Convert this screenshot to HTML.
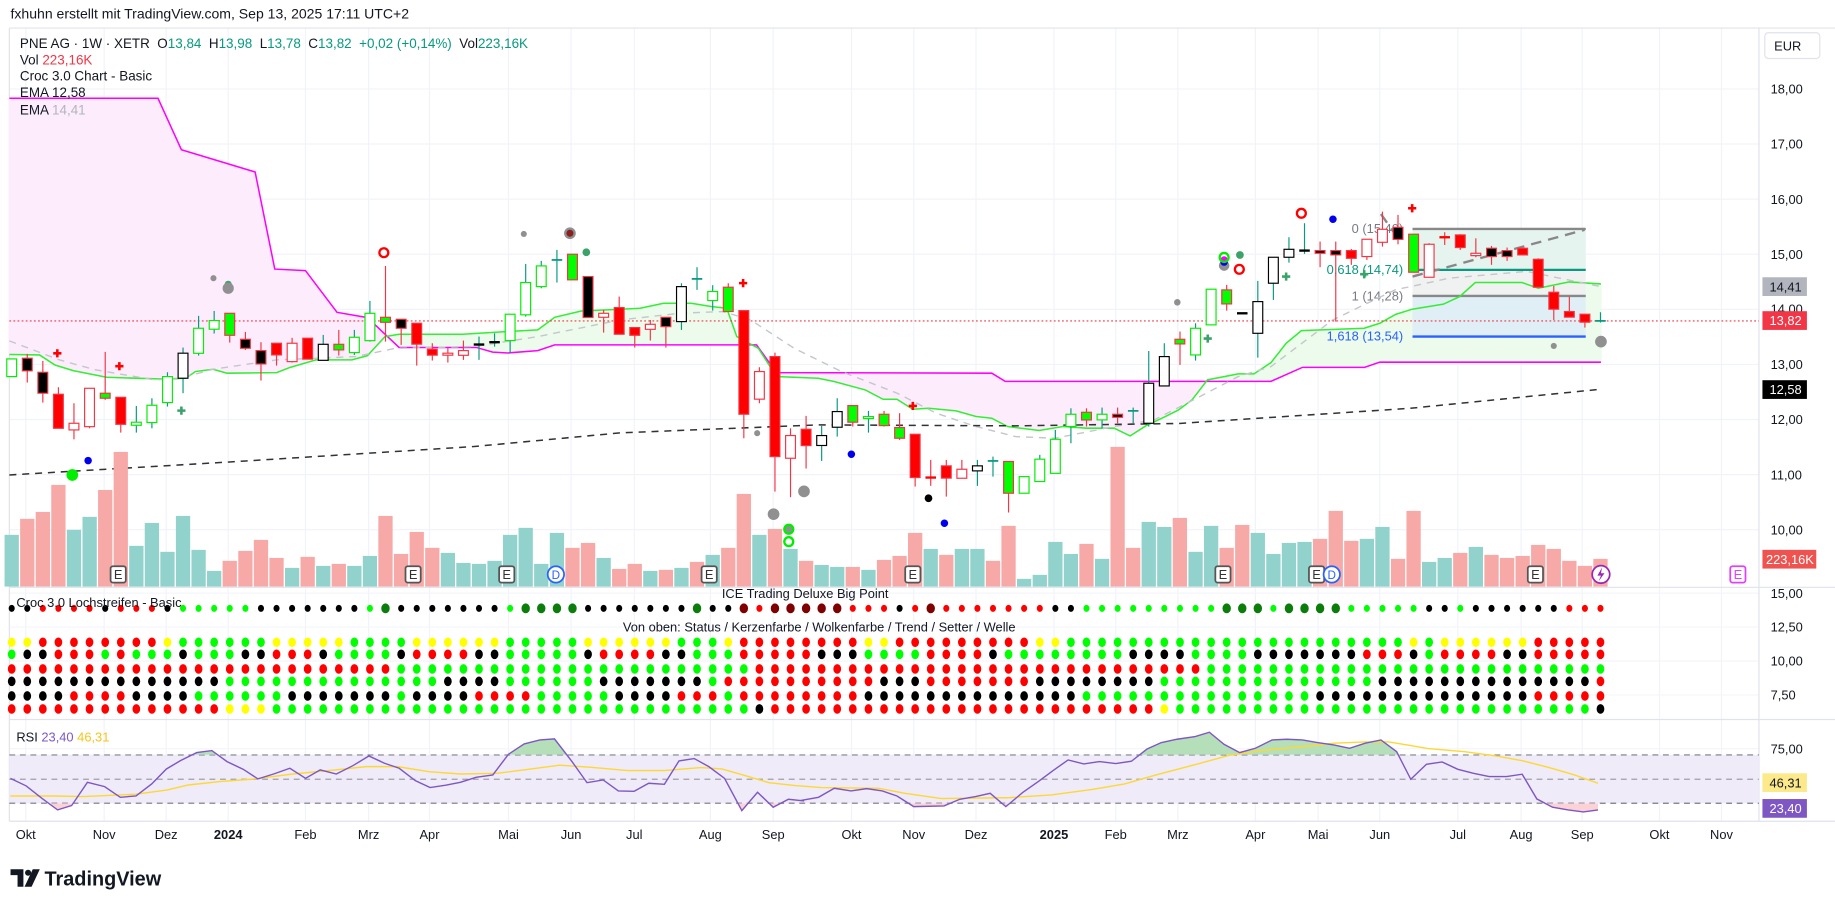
<!DOCTYPE html>
<html><head><meta charset="utf-8"><style>
html,body{margin:0;padding:0;background:#fff;overflow:hidden}
svg{display:block}
text{font-family:"Liberation Sans","DejaVu Sans",sans-serif}
</style></head><body>
<svg id="s" xmlns="http://www.w3.org/2000/svg" width="1835" height="909" viewBox="0 0 1568 777" preserveAspectRatio="none"></svg>
<script>
(function(){
const S=document.getElementById('s');let o='';
const Y=z=>153.8+z/3.51, X=i=>10+13.31*i;
const R7=z=>615.4+z/3.51;
function pl(p){return p.map(q=>q[0].toFixed(1)+','+q[1].toFixed(1)).join(' ');}
function interp(p,x){if(x<=p[0][0])return p[0][1];for(let i=1;i<p.length;i++){if(x<=p[i][0]){const a=p[i-1],b=p[i];return a[1]+(b[1]-a[1])*(x-a[0])/(b[0]-a[0]);}}return p[p.length-1][1];}
const months=[[22,'Okt'],[89,'Nov'],[142,'Dez'],[195,'2024',1],[261,'Feb'],[315,'Mrz'],[367,'Apr'],[434.5,'Mai'],[488,'Jun'],[542,'Jul'],[607,'Aug'],[660.7,'Sep'],[727.6,'Okt'],[780.8,'Nov'],[834,'Dez'],[900.6,'2025',1],[953.4,'Feb'],[1006.5,'Mrz'],[1072.7,'Apr'],[1126.3,'Mai'],[1179,'Jun'],[1245.7,'Jul'],[1299.8,'Aug'],[1352,'Sep'],[1418,'Okt'],[1471,'Nov']];
o+='<rect x="8" y="24" width="1495" height="678" fill="#fff"/>';
months.forEach(m=>{o+=`<line x1="${m[0]}" y1="24" x2="${m[0]}" y2="702" stroke="#f0f3fa" stroke-width="1"/>`;});
for(let p=10;p<=18;p++){const y=76+(18-p)*47.1;o+=`<line x1="8" y1="${y}" x2="1503" y2="${y}" stroke="#f0f3fa"/>`;}
[507,536,565,594,640,667].forEach(y=>{o+=`<line x1="8" y1="${y}" x2="1503" y2="${y}" stroke="#f3f5fa"/>`;});
o+='<line x1="8" y1="24" x2="1568" y2="24" stroke="#e0e3eb"/>';
o+='<line x1="8" y1="502" x2="1568" y2="502" stroke="#e0e3eb"/>';
o+='<line x1="8" y1="615" x2="1568" y2="615" stroke="#e0e3eb"/>';
o+='<line x1="8" y1="702" x2="1568" y2="702" stroke="#e0e3eb"/>';
o+='<line x1="1503" y1="24" x2="1503" y2="702" stroke="#e0e3eb"/>';
o+='<line x1="8" y1="24" x2="8" y2="702" stroke="#e0e3eb"/>';
const mag=[[8,84],[135,84],[155,128],[218,147],[234.8,230],[261,231.3],[288,267],[314,271.5],[341,297],[407,297],[421,301],[434,301.7],[459.5,299.7],[474,294.8],[646.5,294.8],[656.6,309],[665,318.5],[847.5,319],[859,326],[1086,326],[1113,314],[1166,314],[1179,309.6],[1368,309.6]];
const grn=[[8,303],[33.8,303.4],[47,312],[62.5,316.8],[91,322.5],[138.5,324],[158.8,323.3],[167,317.6],[182,315.6],[194,319],[236.5,318.5],[248,314],[270,307.6],[300.7,307.6],[314,304],[329,287.7],[341,285.7],[395,285.7],[434,283.4],[459.5,282],[474,271.2],[496.6,265.8],[530,264.3],[547,263.5],[567,259.2],[590.7,259.2],[607.6,262],[621,263.5],[629.6,287.7],[648,297.7],[658,313.3],[665,321.9],[699,323.3],[712.3,326],[739.4,333.3],[754.6,341.3],[766.4,341.3],[780,349.8],[793.4,349],[817,351.2],[834,356],[847.5,357.5],[861,364.6],[888,368],[908.3,364.6],[928.5,366],[952,366],[965.7,372.6],[979.2,364],[996,356],[1007,350.4],[1018.6,341.8],[1031.8,324.7],[1058,319.6],[1071.5,319.6],[1086,310],[1099,293.4],[1112,282.6],[1165.7,280.6],[1179,276.3],[1192.8,268.6],[1206.7,264.3],[1233.4,260],[1247.3,253.5],[1260.6,241.5],[1300.5,241.5],[1314.4,246.4],[1340.9,241],[1368,242.7]];
let pk='',gk='';
for(let x=8;x<=1368;x++){const m=interp(mag,x),g=interp(grn,x);if(m<g)pk+=`M${x} ${m.toFixed(1)}V${g.toFixed(1)}`;else gk+=`M${x} ${g.toFixed(1)}V${m.toFixed(1)}`;}
o+=`<path d="${pk}" stroke="#fcecfc" stroke-width="1.2"/><path d="${gk}" stroke="#ecfbec" stroke-width="1.2"/>`;
o+='<rect x="1207" y="195.7" width="148" height="35" fill="#e6f4ef"/><rect x="1207" y="230.7" width="148" height="22.3" fill="#f0f1f1"/><rect x="1207" y="253" width="148" height="34.7" fill="#e0eef6"/>';
o+='<line x1="1207" y1="195.7" x2="1355" y2="195.7" stroke="#888" stroke-width="2"/><line x1="1207" y1="230.7" x2="1355" y2="230.7" stroke="#089981" stroke-width="2"/><line x1="1207" y1="253" x2="1355" y2="253" stroke="#888" stroke-width="2"/><line x1="1207" y1="287.7" x2="1355" y2="287.7" stroke="#2962ff" stroke-width="2"/>';
o+='<line x1="1207" y1="236.4" x2="1354" y2="196.5" stroke="#888" stroke-width="2" stroke-dasharray="9,6"/><line x1="1180" y1="183" x2="1192" y2="200" stroke="#888" stroke-width="2" stroke-dasharray="9,6"/>';
o+='<g font-size="11" text-anchor="end"><text x="1199" y="199" fill="#787b86">0 (15,40)</text><text x="1199" y="234" fill="#089981">0,618 (14,74)</text><text x="1199" y="257" fill="#787b86">1 (14,28)</text><text x="1199" y="291" fill="#2962ff">1,618 (13,54)</text></g>';
o+=`<polyline points="${pl(mag)}" fill="none" stroke="#ff00ff" stroke-width="1.3"/>`;
o+=`<polyline points="${pl(grn)}" fill="none" stroke="#33ee33" stroke-width="1.3"/>`;
const ema2=[[8,291.4],[50.7,307.6],[81,316],[131.8,324.7],[152,324],[182,315.6],[236.5,307.6],[304,304.8],[338,297.7],[405.4,296.2],[459.5,287.7],[530,273.5],[580.6,267.8],[617.7,266.3],[641.4,273.5],[678.6,297.7],[719,317.6],[766.4,336],[800,353.2],[834,364.6],[867.7,373.2],[901.5,374.6],[952,364.6],[986,359],[1019.8,341.8],[1058,321.9],[1086,313.4],[1139,273.4],[1192,247.8],[1238.4,237.8],[1304.5,232],[1368,245]];
o+=`<polyline points="${pl(ema2)}" fill="none" stroke="#c4c6cc" stroke-width="1.2" stroke-dasharray="6,5"/>`;
const ema1=[[8,406],[202.7,394.5],[405,381.7],[530,370],[699,363.2],[867.7,364],[1007,362],[1205,349],[1368,332.7]];
o+=`<polyline points="${pl(ema1)}" fill="none" stroke="#333" stroke-width="1.3" stroke-dasharray="6,5"/>`;
const vol=[['t',1065],['p',1017],['p',996],['p',915],['t',1050],['t',1011],['p',930],['p',816],['t',1098],['t',1029],['t',1116],['t',1008],['t',1110],['t',1173],['p',1143],['p',1113],['p',1080],['p',1134],['t',1164],['p',1131],['t',1158],['p',1152],['t',1158],['t',1128],['p',1008],['p',1122],['p',1056],['p',1104],['t',1119],['t',1149],['t',1152],['t',1143],['t',1065],['t',1044],['t',1152],['t',1059],['p',1104],['p',1089],['t',1134],['p',1167],
['p',1152],['t',1173],['p',1170],['t',1164],['p',1146],['t',1125],['p',1104],['p',942],['t',1065],['p',1047],['t',1107],['p',1143],['t',1155],['t',1161],['p',1161],['t',1170],['p',1140],['p',1128],['p',1059],['t',1107],['p',1125],['t',1107],['t',1107],['p',1143],['p',1038],['t',1197],['t',1185],['t',1086],['t',1122],['p',1092],['t',1137],['p',801],['p',1104],['t',1026],['t',1041],['p',1014],['t',1116],['t',1038],['p',1104],['p',1035],
['t',1059],['t',1122],['t',1089],['t',1086],['p',1077],['p',993],['p',1083],['t',1077],['t',1041],['p',1137],['p',993],['t',1146],['t',1134],['p',1119],['t',1101],['p',1125],['p',1134],['p',1128],['p',1095],['p',1107],['p',1143],['p',1158],['p',1137]];
vol.forEach((v,i)=>{const t=Y(v[1]);o+=`<rect x="${(X(i)-6.1).toFixed(1)}" y="${t.toFixed(1)}" width="12.2" height="${(501.4-t).toFixed(1)}" fill="${v[0]=='p'?'#f7a9a7':'#92d2cc'}"/>`;});
o+='<line x1="8" y1="274.3" x2="1503" y2="274.3" stroke="#f23645" stroke-width="1" stroke-dasharray="1.5,2"/>';
const C=[['G',537,590],['B',535,573,522,608],['B',577,640,543,668],['R',643,745,622,745],['RO',730,750,670,778],['RO',625,740,625,745],['GF',640,655,516,660],['R',652,733,652,758],['G',727,736,678,758],['G',676,728,655,745],['G',590,668,577,680],['BO',520,595,503,640],['G',445,520,408,527],['G',422,448,393,461],['GF',400,466,400,488],['B',478,505,456,510],['B',512,552,487,602],['R',490,525,490,557],['RO',490,545,474,548],['R',475,538],['BO',493,541,465,541],['GF',493,510,450,527],['G',472,518,450,525],['G',400,482,363,485],['GF',412,427,258,485],['B',418,445,418,495],['R',430,493,430,557],['R',508,526,490,542],['RO',520,526,505,548],['RO',512,526,482,540],['D',494,494,470,540,'#000'],['D',487,487,460,500,'#000'],['G',403,482,403,520],['G',308,405,252,410],['G',258,320,243,325],['X',240,240,210,308],['GF',223,300],['B',290,413],['RO',400,412,390,458],['R',383,463,350,463],
['R',443,466,443,503],['RO',433,448,420,482],['B',412,440,412,503],['BO',320,425,310,450],['X',297,297,262,330],['G',335,362,316,392],['GF',322,395,310,395],['R',392,703,392,775],['RO',575,658,562,670],['R',530,830,518,935],['RO',767,835,745,952],['R',748,797,708,866],['BO',767,797,738,843],['BO',695,742,655,770],['GF',677,727,677,740],['G',710,716,693,758],['GF',703,737,693,740],['GF',743,775,700,780],['R',763,893,763,920],['D',893,893,840,918,'#f00'],['R',858,895,840,950],['RO',868,895,840,895],['BO',858,873,840,918],['X',843,843,830,890],['GF',845,940,845,998],['G',890,940],['G',838,905,825,905],['G',778,880,750,880],['G',703,740,685,790],['GF',697,720,685,740],['G',703,720,683,745],['B',703,712,683,730],['X',693,693,683,730],['BO',610,730,513,740],['BO',530,618,490,620],['GF',478,492,455,555],['G',445,525,430,542],['G',328,435],['GF',330,372,315,392],['D',400,400,400,400,'#000'],
['BO',365,460,303,533],['BO',232,310,232,360],['BO',208,232,172,248],['D',212,212,130,222,'#000'],['B',212,220,185,262],['B',212,225,185,425],['R',212,235,207,255],['RO',178,230,178,240],['RO',148,187,95,200],['B',142,178,105,193],['GF',163,277],['RO',193,292,190,292],['D',172,172,157,195,'#f00'],['R',165,203,163,210],['RO',220,227,175,232],['B',205,230,198,255],['B',212,230,203,243],['R',205,225],['R',238,322,235,322],['R',337,388,318,420],['R',395,412,350,412],['R',403,427,403,443],['X',423,423,397,428]];
C.forEach((c,i)=>{const x=X(i),t=c[0];const bt=Y(c[1]),bb=Y(c[2]);const wt=Y(c[3]!==undefined?c[3]:c[1]),wb=Y(c[4]!==undefined?c[4]:c[2]);
let fill,st,wc;
if(t=='G'){fill='#fff';st='#00ee00';wc='#089981';}else if(t=='GF'){fill='#00ff00';st='#f23645';wc='#f23645';}else if(t=='R'){fill='#ff0000';st='#f23645';wc='#f23645';}else if(t=='RO'){fill='#fff';st='#f23645';wc='#f23645';}else if(t=='B'){fill='#000';st='#f23645';wc='#f23645';}else if(t=='BO'){fill='#fff';st='#000';wc='#089981';}else if(t=='X'){wc='#089981';}else{wc=c[5]=='#f00'?'#f23645':'#089981';}
o+=`<line x1="${x.toFixed(1)}" y1="${wt.toFixed(1)}" x2="${x.toFixed(1)}" y2="${wb.toFixed(1)}" stroke="${wc}" stroke-width="1"/>`;
if(t=='X'){o+=`<line x1="${(x-4.5).toFixed(1)}" y1="${bt.toFixed(1)}" x2="${(x+4.5).toFixed(1)}" y2="${bt.toFixed(1)}" stroke="#089981" stroke-width="1.5"/>`;}
else if(t=='D'){o+=`<line x1="${(x-4.5).toFixed(1)}" y1="${bt.toFixed(1)}" x2="${(x+4.5).toFixed(1)}" y2="${bt.toFixed(1)}" stroke="${c[5]}" stroke-width="2"/>`;}
else{o+=`<rect x="${(x-4.2).toFixed(1)}" y="${bt.toFixed(1)}" width="8.4" height="${Math.max(1,bb-bt).toFixed(1)}" fill="${fill}" stroke="${st}" stroke-width="1"/>`;}
});
function cross(x,y,c){o+=`<path d="M${x-3.5} ${y}H${x+3.5}M${x} ${y-3.5}V${y+3.5}" stroke="${c}" stroke-width="2.2"/>`;}
[[49,302],[102,313],[635,242],[780,347],[1206.7,178]].forEach(p=>cross(p[0],p[1],'#ff0000'));
[[155,351],[1032,289.4],[1099,236.4],[1165.7,234.4]].forEach(p=>cross(p[0],p[1],'#3aa36a'));
function dot(x,y,r,c){o+=`<circle cx="${x}" cy="${y}" r="${r}" fill="${c}"/>`;}
function ring(x,y,r,c){o+=`<circle cx="${x}" cy="${y}" r="${r}" fill="none" stroke="${c}" stroke-width="2"/>`;}
ring(328,216,3.8,'#ff0000');ring(1112,182.3,3.8,'#ff0000');ring(1059,230.2,3.8,'#ff0000');
dot(75.3,393.7,3.2,'#0000ee');dot(727.5,388.3,3.2,'#0000ee');dot(807,447.3,3.2,'#0000ee');dot(1139,187.4,3.2,'#0000ee');
dot(61.8,406,5,'#00ee00');
dot(182.4,237.8,2.6,'#909090');dot(195,243,3,'#3aa36a');dot(195,246.4,4.8,'#909090');
dot(447.6,200,2.6,'#909090');dot(487,199.4,5,'#909090');dot(487,199.4,3,'#8b2020');dot(501,215.6,3.3,'#3aa36a');
dot(647,370.3,2.6,'#909090');dot(687,420,5,'#909090');dot(661,439.5,5,'#909090');
dot(674,452.4,3,'#909090');ring(674,452.4,3.8,'#00ee00');ring(674,463,3.8,'#00ee00');
dot(793.4,425.9,3.3,'#000');dot(1006,258.4,2.8,'#909090');
dot(1046,227,4.5,'#909090');dot(1046,224,3.2,'#0000ee');dot(1046,222,3,'#ff00ff');ring(1046,220,3.8,'#00ee00');dot(1059.5,218,3.3,'#3aa36a');
dot(1327.7,295.7,2.6,'#909090');dot(1368,292,5,'#909090');
function Em(x,c,b){o+=`<rect x="${x-6.5}" y="484" width="13" height="14" rx="2" fill="#fff" stroke="${b||'#555'}" stroke-width="1.5"/><text x="${x}" y="495" font-size="11" text-anchor="middle" fill="${c||'#333'}">E</text>`;}
[101,353,433,606,780,1045,1125,1312].forEach(x=>Em(x));
Em(1485,'#e040fb','#e040fb');
[475,1138].forEach(px=>{o+=`<circle cx="${px}" cy="491" r="7" fill="#fff" stroke="#2962ff" stroke-width="1.5"/><text x="${px}" y="495" font-size="10" text-anchor="middle" fill="#2962ff">D</text>`;});
o+=`<circle cx="1368" cy="491" r="7.5" fill="#fff" stroke="#9c27b0" stroke-width="1.5"/><path d="M1369 485L1365 492H1368L1366 497L1371 490H1368Z" fill="#9c27b0"/>`;
const topRow='kkrrrrkrrrkgggggkkkkkkkgGkkkkkkkgGGGGkkkkkkkGkkRrRRRRRrrrkrRrrrrrrrkkgggggggggGGGgGGGGgggggkkgkkkkkkrrrr';
function rl(spec){return spec.map(s=>s[0].repeat(s[1])).join('');}
const rows=[];
rows[0]=rl([['y',2],['r',8],['y',1],['g',6],['y',5],['g',4],['y',6],['g',5],['y',6],['g',3],['y',1],['r',4],['r',4],['y',2],['r',9],['y',2],['g',22],['y',1],['g',1],['y',1],['y',5],['r',5]]);
rows[1]=rl([['g',1],['k',2],['r',3],['g',1],['r',1],['g',3],['k',1],['g',3],['k',2],['r',3],['k',1],['g',4],['k',1],['r',4],['k',2],['g',5],['k',1],['r',4],['k',2],['g',3],['r',5],['k',1],['k',2],['g',4],['r',4],['k',1],['g',8],['k',4],['g',4],['k',7],['r',3],['k',1],['g',1],['r',4],['k',2],['r',6]]);
rows[2]=rl([['r',25],['g',23],['r',29],['g',26]]);
rows[3]=rl([['k',14],['g',14],['k',4],['g',6],['k',7],['g',1],['r',10],['k',3],['r',7],['k',8],['g',14],['k',14],['r',1]]);
rows[4]=rl([['k',4],['r',4],['k',4],['g',6],['k',7],['g',1],['k',4],['r',4],['g',5],['k',4],['r',3],['g',1],['r',8],['k',14],['g',15],['k',14],['r',5]]);
rows[5]=rl([['r',14],['y',3],['g',31],['k',1],['r',25],['y',1],['g',27],['k',1]]);
const col={g:'#00ff00',G:'#0b7d0b',r:'#ff0000',R:'#800000',k:'#000000',y:'#ffff00'};
for(let i=0;i<103;i++){const c=topRow[i]||'k';const big=(c=='G'||c=='R');o+=`<ellipse cx="${X(i).toFixed(1)}" cy="520" rx="${big?3.6:2.6}" ry="${big?4.2:3}" fill="${col[c]}"/>`;}
const ry=[549,559.3,571.8,582.4,594.9,606];
rows.forEach((r,k)=>{for(let i=0;i<103;i++){const c=r[i]||'r';o+=`<ellipse cx="${X(i).toFixed(1)}" cy="${ry[k]}" rx="3.3" ry="4.1" fill="${col[c]}"/>`;}});
o+='<text x="14" y="519" font-size="11" fill="#131722">Croc 3.0 Lochstreifen - Basic</text>';
o+='<text x="688" y="511" font-size="11" text-anchor="middle" fill="#131722">ICE Trading Deluxe Big Point</text>';
o+='<text x="700" y="540" font-size="11" text-anchor="middle" fill="#131722">Von oben: Status / Kerzenfarbe / Wolkenfarbe / Trend / Setter / Welle</text>';
o+='<rect x="8" y="645.3" width="1495" height="41.3" fill="#efebf8"/>';
[645.3,666.1,686.6].forEach(y=>{o+=`<line x1="8" y1="${y}" x2="1503" y2="${y}" stroke="${y==666.1?'#a0a0a8':'#787b86'}" stroke-width="1" stroke-dasharray="5,4"/>`;});
const r7=[[20,175],[50,198],[80,235],[110,270],[137,257],[167,187],[200,200],[230,232],[260,228],[290,192],[318,147],[345,122],[376,98],[405,92],[434,125],[465,148],[493,177],[523,162],[554,145],[584,175],[612,150],[643,162],[675,137],[705,108],[735,130],[763,145],[794,182],[822,203],[852,196],[880,187],[910,172],[942,165],[972,103],[1002,72],[1032,60],[1060,57],[1092,122],[1122,188],[1153,180],[1182,213],[1212,214],[1240,190],[1270,193],[1298,123],[1327,116],[1355,140],[1385,175],[1418,272],[1448,217],[1478,262],[1507,238],[1537,243]].map(p=>[p[0]/2.237,R7(p[1])]);
const r8=[[0,242],[35,232],[65,205],[97,213],[127,206],[157,213],[185,228],[217,260],[275,258],[305,238],[335,230],[363,220],[393,260],[425,218],[455,185],[485,150],[512,120],[542,132],[572,125],[603,131],[633,124],[663,87],[690,68],[720,58],[755,50],[782,37],[810,73],[840,98],[870,85],[902,60],[930,58],[960,60],[990,68],[1020,75],[1050,85],[1080,70],[1110,60],[1140,95],[1167,178],[1197,133],[1227,126],[1257,148],[1287,160],[1317,170],[1350,170],[1380,163],[1408,237],[1438,262],[1468,270],[1497,276],[1525,270]].map(p=>[683.8+p[0]/2.237,R7(p[1])]);
const rsi=r7.concat(r8);
const m7=[[20,228],[100,228],[160,230],[260,223],[320,210],[360,195],[420,185],[480,178],[560,162],[640,150],[700,140],[760,140],[820,155],[880,162],[950,160],[1010,148],[1070,136],[1130,142],[1200,152],[1270,152],[1340,143],[1380,147],[1420,165],[1470,188],[1520,197]].map(p=>[p[0]/2.237,R7(p[1])]);
const m8=[[0,198],[40,203],[150,205],[200,220],[270,236],[400,233],[480,225],[560,208],[620,192],[680,165],[760,132],[820,106],[880,92],[960,80],[1020,70],[1080,66],[1125,66],[1160,75],[1200,86],[1270,95],[1330,108],[1380,122],[1430,142],[1480,165],[1525,190]].map(p=>[683.8+p[0]/2.237,R7(p[1])]);
const maL=m7.concat(m8);
const x0=rsi[0][0],x1=rsi[rsi.length-1][0];
o+='<defs><clipPath id="cu"><rect x="0" y="600" width="1503" height="45.3"/></clipPath><clipPath id="cl"><rect x="0" y="686.6" width="1503" height="20"/></clipPath></defs>';
o+=`<polygon clip-path="url(#cu)" points="${x0},645.3 ${pl(rsi)} ${x1},645.3" fill="#b5dfb9"/>`;
o+=`<polygon clip-path="url(#cl)" points="${x0},686.6 ${pl(rsi)} ${x1},686.6" fill="#fbd3d6"/>`;
o+=`<polyline points="${pl(maL)}" fill="none" stroke="#fdd835" stroke-width="1.2"/>`;
o+=`<polyline points="${pl(rsi)}" fill="none" stroke="#7e57c2" stroke-width="1.2"/>`;
o+='<text x="14" y="634" font-size="11" fill="#131722">RSI <tspan fill="#7e57c2">23,40</tspan> <tspan fill="#f5c518">46,31</tspan></text>';
months.forEach(m=>{o+=`<text x="${m[0]}" y="717" font-size="11" text-anchor="middle" fill="#131722" ${m[2]?'font-weight="bold"':''}>${m[1]}</text>`;});
o+='<rect x="1508" y="28" width="47" height="22" rx="3" fill="#fff" stroke="#e0e3eb"/><text x="1516" y="43" font-size="11" fill="#131722">EUR</text>';
for(let p=10;p<=18;p++){const y=76+(18-p)*47.1;if(p==14)continue;o+=`<text x="1513" y="${y+4}" font-size="11" fill="#131722">${p},00</text>`;}
o+='<text x="1513" y="268" font-size="11" fill="#131722">14,00</text>';
o+='<rect x="1506" y="237" width="38" height="16" fill="#b2b5be"/><text x="1512" y="249" font-size="11" fill="#131722">14,41</text>';
o+='<rect x="1506" y="266" width="38" height="16" fill="#f23645"/><text x="1512" y="278" font-size="11" fill="#fff">13,82</text>';
o+='<rect x="1506" y="325" width="38" height="16" fill="#000"/><text x="1512" y="337" font-size="11" fill="#fff">12,58</text>';
o+='<rect x="1506" y="470" width="46" height="16" fill="#ef5350"/><text x="1509" y="482" font-size="11" fill="#fff">223,16K</text>';
[[507,'15,00'],[536,'12,50'],[565,'10,00'],[594,'7,50']].forEach(a=>{o+=`<text x="1513" y="${a[0]+4}" font-size="11" fill="#131722">${a[1]}</text>`;});
o+='<text x="1513" y="644" font-size="11" fill="#131722">75,00</text>';
o+='<rect x="1506" y="661" width="38" height="16" fill="#fbe98a"/><text x="1512" y="673" font-size="11" fill="#131722">46,31</text>';
o+='<rect x="1506" y="683" width="38" height="16" fill="#7e57c2"/><text x="1512" y="695" font-size="11" fill="#fff">23,40</text>';
o+='<text x="9" y="16" font-size="12" fill="#131722">fxhuhn erstellt mit TradingView.com, Sep 13, 2025 17:11 UTC+2</text>';
o+='<g font-size="11.5"><text x="17" y="41" fill="#131722" xml:space="preserve">PNE AG · 1W · XETR  O<tspan fill="#089981">13,84</tspan>  H<tspan fill="#089981">13,98</tspan>  L<tspan fill="#089981">13,78</tspan>  C<tspan fill="#089981">13,82</tspan>  <tspan fill="#089981">+0,02 (+0,14%)</tspan>  Vol<tspan fill="#089981">223,16K</tspan></text>';
o+='<text x="17" y="55" fill="#131722">Vol  <tspan fill="#f23645">223,16K</tspan></text>';
o+='<text x="17" y="69" fill="#131722">Croc 3.0 Chart - Basic</text>';
o+='<text x="17" y="83" fill="#131722">EMA  12,58</text>';
o+='<text x="17" y="98" fill="#131722">EMA  <tspan fill="#b2b5be">14,41</tspan></text></g>';
o+='<path d="M9 743h11v15h-5v-10h-6z" fill="#131722"/><circle cx="24" cy="746" r="2.6" fill="#131722"/><path d="M28 743h6l-7 15h-6z" fill="#131722"/>';
o+='<text x="38" y="757" font-size="17" font-weight="bold" fill="#131722">TradingView</text>';
S.innerHTML=o;
})();
</script>
</body></html>
